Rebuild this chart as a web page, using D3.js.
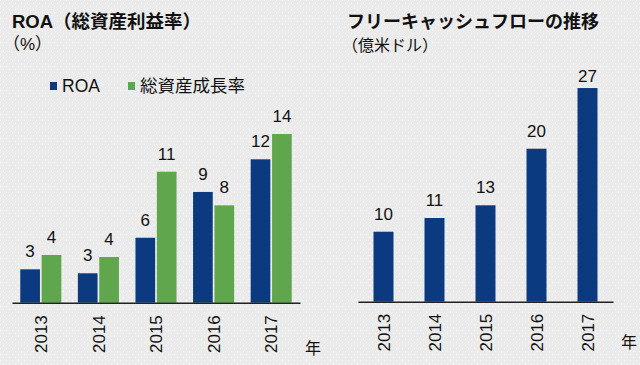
<!DOCTYPE html>
<html><head><meta charset="utf-8">
<script src="https://cdn.jsdelivr.net/npm/d3@7"></script>
<style>
html,body{margin:0;padding:0;background:#ececec;}
svg{display:block;}
text{font-family:"Liberation Sans",Arial,"Noto Sans CJK JP",sans-serif;fill:#111;}
</style></head><body>
<svg id="c" width="640" height="365"></svg>
<script>
// ---- data ----
const years = ["2013","2014","2015","2016","2017"];
const roaValues = [2.77, 2.44, 5.39, 9.19, 11.9];
const roaLabels = ["3","3","6","9","12"];
const assetGrowthValues = [3.96, 3.79, 10.87, 8.08, 14.0];
const assetGrowthLabels = ["4","4","11","8","14"];
const fcfValues = [9.03, 10.8, 12.44, 19.74, 27.57];
const fcfLabels = ["10","11","13","20","27"];
const seriesNames = ["ROA","総資産成長率"];
const leftTitle = "ROA（総資産利益率）";
const leftUnit = "（%）";
const rightTitle = "フリーキャッシュフローの推移";
const rightUnit = "（億米ドル）";
const yearUnit = "年";

const BLUE = "#0b3a80", GREEN = "#60a64c";
const svg = d3.select("#c");
const defs = svg.append("defs");
const pat = defs.append("pattern").attr("id","dots").attr("patternUnits","userSpaceOnUse")
  .attr("width",6).attr("height",6);
pat.append("rect").attr("width",6).attr("height",6).attr("fill","#ebebeb");
pat.append("rect").attr("x",0).attr("y",0).attr("width",1).attr("height",1).attr("fill","#fafafa");
pat.append("rect").attr("x",3).attr("y",3).attr("width",1).attr("height",1).attr("fill","#fafafa");
svg.append("rect").attr("width",640).attr("height",365).attr("fill","url(#dots)");

// ---- left chart ----
const L = {x0:12, x1:300, base:302.7};
const xL = d3.scaleBand().domain(years).range([L.x0, L.x1]).paddingInner(0.287).paddingOuter(0.1435);
const xSub = d3.scaleBand().domain(seriesNames).range([0, xL.bandwidth()]).paddingInner(0.08);
const yL = d3.scaleLinear().domain([0, 15]).range([L.base, L.base - 15*12.05]);

const leftData = years.map((y,i)=>[
  {year:y, s:seriesNames[0], v:roaValues[i], lab:roaLabels[i], c:BLUE},
  {year:y, s:seriesNames[1], v:assetGrowthValues[i], lab:assetGrowthLabels[i], c:GREEN}
]).flat();

const gL = svg.append("g");
gL.selectAll("rect.bar").data(leftData).join("rect")
  .attr("x", d=>xL(d.year)+xSub(d.s)).attr("width", xSub.bandwidth())
  .attr("y", d=>yL(d.v)).attr("height", d=>L.base-yL(d.v)).attr("fill", d=>d.c);
gL.selectAll("text.lab").data(leftData).join("text")
  .attr("x", d=>xL(d.year)+xSub(d.s)+xSub.bandwidth()/2)
  .attr("y", d=>yL(d.v)-12).attr("text-anchor","middle")
  .attr("font-size",17).text(d=>d.lab);

const axL = d3.axisBottom(xL).tickSize(0).tickSizeOuter(0).tickPadding(0);
const axLg = gL.append("g").attr("transform",`translate(0,${L.base})`).call(axL);
axLg.select(".domain").attr("stroke","#222").attr("stroke-width",1.5);
axLg.selectAll(".tick text").attr("font-size",17).attr("fill","#111")
  .attr("text-anchor","end").attr("transform","translate(0,12.5) rotate(-90)")
  .attr("dy","0.36em").attr("y",0).attr("x",0);

gL.append("text").attr("x",305).attr("y",354).attr("font-size",16).text(yearUnit);

// titles & legend
svg.append("text").attr("x",12).attr("y",28).attr("font-size",18.5).attr("font-weight","bold").text(leftTitle);
svg.append("text").attr("x",3).attr("y",50).attr("font-size",17).text(leftUnit);

const leg = svg.append("g");
[{n:seriesNames[0],c:BLUE,x:50},{n:seriesNames[1],c:GREEN,x:128}].forEach(d=>{
  leg.append("rect").attr("x",d.x).attr("y",82).attr("width",7).attr("height",8).attr("fill",d.c);
  leg.append("text").attr("x",d.x+12).attr("y",92).attr("font-size",17.5).text(d.n);
});

// ---- right chart ----
const R = {x0:358, x1:613, base:301.7};
const xR = d3.scaleBand().domain(years).range([R.x0, R.x1]).paddingInner(0.608).paddingOuter(0.304);
const yR = d3.scaleLinear().domain([0, 28]).range([R.base, R.base - 28*7.75]);
const rightData = years.map((y,i)=>({year:y, v:fcfValues[i], lab:fcfLabels[i]}));
const gR = svg.append("g");
gR.selectAll("rect").data(rightData).join("rect")
  .attr("x", d=>xR(d.year)).attr("width", xR.bandwidth())
  .attr("y", d=>yR(d.v)).attr("height", d=>R.base-yR(d.v)).attr("fill", BLUE);
gR.selectAll("text.lab").data(rightData).join("text")
  .attr("x", d=>xR(d.year)+xR.bandwidth()/2)
  .attr("y", d=>Math.max(yR(d.v)-12, 82)).attr("text-anchor","middle")
  .attr("font-size",17).text(d=>d.lab);
const axRg = gR.append("g").attr("transform",`translate(0,${R.base})`)
  .call(d3.axisBottom(xR).tickSize(0).tickSizeOuter(0).tickPadding(0));
axRg.select(".domain").attr("stroke","#222").attr("stroke-width",1.5);
axRg.selectAll(".tick text").attr("font-size",17).attr("fill","#111")
  .attr("text-anchor","end").attr("transform","translate(0,12) rotate(-90)")
  .attr("dy","0.36em").attr("y",0).attr("x",0);
gR.append("text").attr("x",621).attr("y",348).attr("font-size",16).text(yearUnit);

svg.append("text").attr("x",347).attr("y",28).attr("font-size",18).attr("font-weight","bold").text(rightTitle);
svg.append("text").attr("x",342).attr("y",51).attr("font-size",16).text(rightUnit);
</script></body></html>
